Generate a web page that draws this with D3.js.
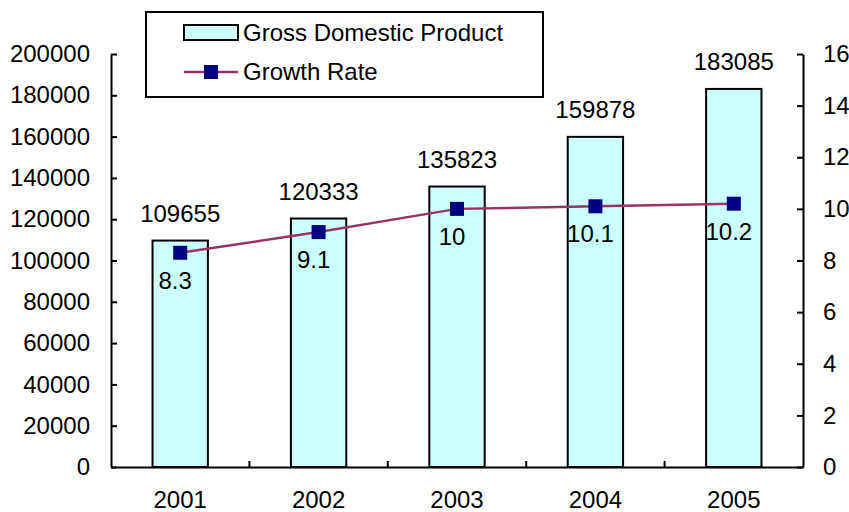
<!DOCTYPE html>
<html>
<head>
<meta charset="utf-8">
<script src="https://cdn.jsdelivr.net/npm/d3@7"></script>
<style>
  html, body { margin: 0; padding: 0; background: #fff; }
  svg { display: block; }
  text { font-family: "Liberation Sans", Arial, sans-serif; fill: #000; }
</style>
</head>
<body>
<svg id="chart" width="849" height="512"></svg>
<script>
const years = ["2001", "2002", "2003", "2004", "2005"];
const gdp = [109655, 120333, 135823, 159878, 183085];
const growth = [8.3, 9.1, 10, 10.1, 10.2];
const leftTicks = [0, 20000, 40000, 60000, 80000, 100000, 120000, 140000, 160000, 180000, 200000];
const rightTicks = [0, 2, 4, 6, 8, 10, 12, 14, 16];
const seriesNames = ["Gross Domestic Product", "Growth Rate"];

const W = 849, H = 512;
const m = { left: 111, right: 803, top: 54, bottom: 467 };
const FS = 24;
const svg = d3.select("#chart");

const x = d3.scaleBand().domain(years).range([m.left, m.right]).paddingInner(0.6).paddingOuter(0.3);
const yL = d3.scaleLinear().domain([0, 200000]).range([m.bottom, m.top]);
const yR = d3.scaleLinear().domain([0, 16]).range([m.bottom, m.top]);

// bars
svg.append("g").selectAll("rect").data(years).join("rect")
  .attr("x", d => x(d))
  .attr("y", (d, i) => yL(gdp[i]))
  .attr("width", x.bandwidth())
  .attr("height", (d, i) => yL(0) - yL(gdp[i]))
  .attr("fill", "#CCFFFF")
  .attr("stroke", "#000")
  .attr("stroke-width", 2);

// gdp labels
svg.append("g").selectAll("text").data(years).join("text")
  .attr("x", d => x(d) + x.bandwidth() / 2)
  .attr("y", (d, i) => yL(gdp[i]) - 19)
  .attr("text-anchor", "middle")
  .style("font-size", FS + "px")
  .text((d, i) => gdp[i]);

// left axis
const axL = d3.axisLeft(yL).tickValues(leftTicks).tickSize(-6).tickSizeOuter(0).tickPadding(21).tickFormat(d3.format("d"));
const gL = svg.append("g").attr("transform", `translate(${m.left},0)`).call(axL);
gL.selectAll("text").style("font-size", FS + "px").style("font-family", "'Liberation Sans', Arial, sans-serif");
gL.select(".domain").attr("stroke-width", 2);
gL.selectAll(".tick line").attr("stroke-width", 2);

// right axis
const axR = d3.axisRight(yR).tickValues(rightTicks).tickSize(-6).tickSizeOuter(0).tickPadding(20).tickFormat(d3.format("d"));
const gR = svg.append("g").attr("transform", `translate(${m.right},0)`).call(axR);
gR.selectAll("text").style("font-size", FS + "px").style("font-family", "'Liberation Sans', Arial, sans-serif");
gR.select(".domain").attr("stroke-width", 2);
gR.selectAll(".tick line").attr("stroke-width", 2);

// bottom axis
const axB = d3.axisBottom(x).tickSize(0).tickSizeOuter(0).tickPadding(24);
const gB = svg.append("g").attr("transform", `translate(0,${m.bottom})`).call(axB);
gB.selectAll("text").style("font-size", FS + "px").style("font-family", "'Liberation Sans', Arial, sans-serif");
gB.select(".domain").attr("stroke-width", 2);
// category boundary ticks
const step = x.step();
svg.append("g").selectAll("line").data(years.slice(1)).join("line")
  .attr("x1", d => x(d) - step * x.paddingInner() / 2)
  .attr("x2", d => x(d) - step * x.paddingInner() / 2)
  .attr("y1", m.bottom)
  .attr("y2", m.bottom - 6)
  .attr("stroke", "#000")
  .attr("stroke-width", 2);

// growth line
const cx = d => x(d) + x.bandwidth() / 2;
const line = d3.line().x(d => cx(d[0])).y(d => yR(d[1]));
svg.append("path")
  .datum(years.map((d, i) => [d, growth[i]]))
  .attr("d", line)
  .attr("fill", "none")
  .attr("stroke", "#993366")
  .attr("stroke-width", 2.5);

svg.append("g").selectAll("rect").data(years).join("rect")
  .attr("x", d => cx(d) - 7)
  .attr("y", (d, i) => yR(growth[i]) - 7)
  .attr("width", 14)
  .attr("height", 14)
  .attr("fill", "#000080");

svg.append("g").selectAll("text").data(years).join("text")
  .attr("x", d => cx(d) - 5)
  .attr("y", (d, i) => yR(growth[i]) + 36)
  .attr("text-anchor", "middle")
  .style("font-size", FS + "px")
  .text((d, i) => growth[i]);

// legend
const lg = svg.append("g");
lg.append("rect").attr("x", 146).attr("y", 12).attr("width", 397).attr("height", 85)
  .attr("fill", "#fff").attr("stroke", "#000").attr("stroke-width", 2);
lg.append("rect").attr("x", 184).attr("y", 25).attr("width", 54).attr("height", 15)
  .attr("fill", "#CCFFFF").attr("stroke", "#000").attr("stroke-width", 2);
lg.append("text").attr("x", 243).attr("y", 41).style("font-size", FS + "px").text(seriesNames[0]);
lg.append("line").attr("x1", 184).attr("x2", 238).attr("y1", 72).attr("y2", 72)
  .attr("stroke", "#993366").attr("stroke-width", 2.5);
lg.append("rect").attr("x", 204).attr("y", 65).attr("width", 14).attr("height", 14).attr("fill", "#000080");
lg.append("text").attr("x", 243).attr("y", 80).style("font-size", FS + "px").text(seriesNames[1]);
</script>
</body>
</html>
